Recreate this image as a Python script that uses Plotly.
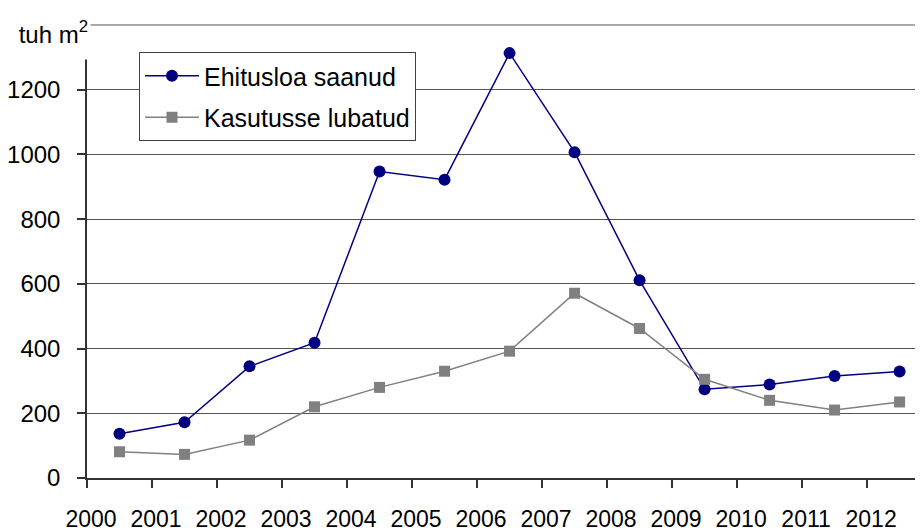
import plotly.graph_objects as go

years = [str(y) for y in range(2000, 2013)]
ehitusloa = [137, 172, 345, 418, 947, 922, 1313, 1007, 611, 274, 289, 315, 329]
kasutusse = [81, 73, 117, 220, 280, 330, 392, 571, 462, 305, 240, 210, 235]
y_ticks = [0, 200, 400, 600, 800, 1000, 1200, 1400]
y_ticktext = ["0", "200", "400", "600", "800", "1000", "1200", ""]

xpos = [i + 0.5 for i in range(len(years))]
FONT = "Liberation Sans, Arial, sans-serif"

# page has an 8px body margin: figure is sized/offset to compensate
W, H = 915, 522
ML, MT, MB = 79, 16, 52
PW, PH = W - ML, H - MT - MB

fig = go.Figure()
fig.add_trace(go.Scatter(
    x=xpos, y=ehitusloa, name="Ehitusloa saanud", mode="lines+markers",
    line=dict(color="#000080", width=1.5),
    marker=dict(symbol="circle", size=12, color="#000080"),
    legendgroup="a",
))
fig.add_trace(go.Scatter(
    x=xpos, y=kasutusse, name="Kasutusse lubatud", mode="lines+markers",
    line=dict(color="#808080", width=1.5),
    marker=dict(symbol="square", size=11, color="#808080"),
    legendgroup="b",
))

fig.update_layout(
    width=W, height=H,
    margin=dict(l=ML, r=0, t=MT, b=MB, pad=0, autoexpand=False),
    paper_bgcolor="white", plot_bgcolor="white",
    font=dict(family=FONT, size=24, color="black"),
    showlegend=True,
    legend=dict(
        x=(139 - 8 - ML) / PW, y=1 - (52 - 8 - MT) / PH,
        xanchor="left", yanchor="top",
        bordercolor="#404040", borderwidth=1, bgcolor="white",
        font=dict(size=25, family=FONT, color="black"),
        tracegroupgap=6, itemwidth=54,
    ),
    xaxis=dict(
        range=[0, 12.86], tickmode="array",
        tickvals=list(range(len(years))), ticktext=years,
        showgrid=False, zeroline=False, automargin=False,
        showline=True, linecolor="#333333", linewidth=1.5,
        ticks="outside", ticklen=8, tickcolor="#333333", tickwidth=1.5,
        ticklabelstandoff=12, ticklabelshift=4,
        tickfont=dict(size=23, family=FONT, color="black"),
    ),
    yaxis=dict(
        range=[0, 1403], tickmode="array", tickvals=y_ticks, ticktext=y_ticktext,
        showgrid=True, gridcolor="#555555", gridwidth=1,
        zeroline=False, automargin=False,
        showline=True, linecolor="#333333", linewidth=1.5,
        ticks="outside", ticklen=8, tickcolor="#333333", tickwidth=1.5,
        ticklabelstandoff=12,
        tickfont=dict(size=24, family=FONT, color="black"),
    ),
)

# top gridline (1400) drawn explicitly
fig.add_shape(type="line", xref="paper", yref="y", x0=0, x1=1,
              y0=y_ticks[-1], y1=y_ticks[-1],
              line=dict(color="#555555", width=1), layer="below")

fig.add_annotation(
    text="tuh m<sup>2</sup>", xref="paper", yref="paper",
    x=(91 - 8 - ML) / PW, y=1 + 19 / PH, xanchor="right", yanchor="top",
    width=84, height=49, align="right", valign="middle",
    bgcolor="white", showarrow=False, borderpad=2,
    font=dict(size=24, family=FONT, color="black"),
)

fig.write_html("out.html")
